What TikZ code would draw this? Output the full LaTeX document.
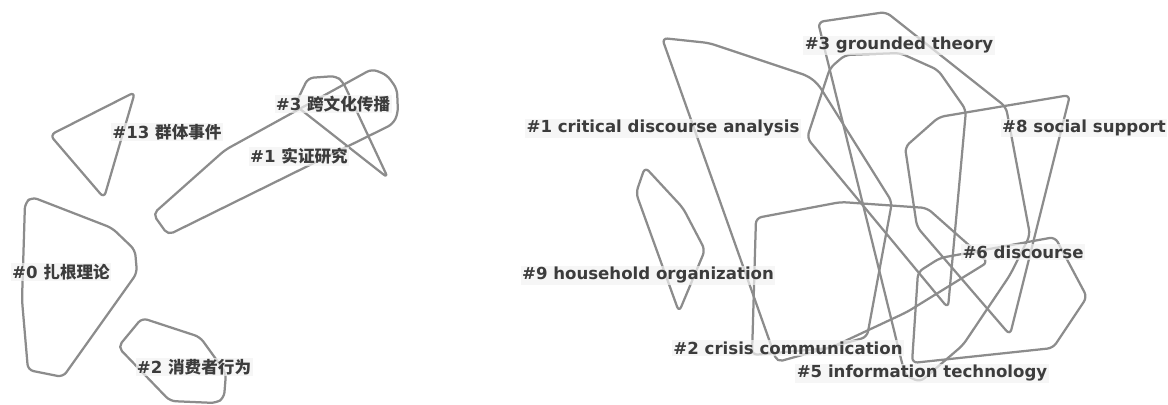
\documentclass[tikz,border=0pt]{standalone}
\usepackage{fontspec}
\setmainfont{DejaVu Sans}
\newfontfamily\cjk{Noto Sans CJK SC}
\definecolor{hullgray}{HTML}{8C8C8C}
\definecolor{labgray}{HTML}{3C3C3C}
\tikzset{
  hull/.style={draw=hullgray, line width=1.6pt, rounded corners=4pt, line join=round},
  clabel/.style={fill=black!5, fill opacity=0.7, text opacity=1, text=labgray,
    inner sep=1pt, font=\bfseries\fontsize{11.8}{14}\selectfont},
}
\newcommand{\zh}[1]{{\cjk\bfseries #1}}

\begin{document}
\begin{tikzpicture}[x=0.025cm, y=-0.025cm]
    \useasboundingbox (0,0) rectangle (1168,404);
    % chinese clusters
    \begin{scope}
        \draw[hull] (32,197) -- (112,228) -- (135,250) -- (137,273) -- (63,377) -- (28,370) -- (22,300) -- (25,203) -- cycle;
        \draw[hull] (50,135) -- (135,92) -- (104,198) -- cycle;
        \draw[hull] (153,214) -- (168,235) -- (393,124) -- (398,113) -- (397,89) -- (387,75) -- (372,69) -- (225,150) -- cycle;
        \draw[hull] (295,105) -- (308,78) -- (336,76) -- (343,82) -- (388,178) -- cycle;
        \draw[hull] (118,347) -- (142,318) -- (200,337) -- (226,373) -- (224,398) -- (216,403) -- (170,401) -- cycle;
        \node[clabel] (c13) at (167,132) {\#13 \zh{群体事件}};
        \node[clabel] (c3) at (333,104) {\#3 \zh{跨文化传播}};
        \node[clabel] (c1) at (299,156) {\#1 \zh{实证研究}};
        \node[clabel] (c0) at (61,272) {\#0 \zh{扎根理论}};
        \node[clabel] (c2) at (194,367) {\#2 \zh{消费者行为}};
    \end{scope}
    % english clusters
    \begin{scope}
        \draw[hull] (662,38) -- (709,43) -- (808,76) -- (818,84) -- (892,202) -- (867,337) -- (777,362) -- cycle;
        \draw[hull] (807,138) -- (830,68) -- (845,55) -- (900,53) -- (938,70) -- (966,110) -- (948,308) -- cycle;
        \draw[hull] (818,22) -- (886,12) -- (1006,107) -- (1030,235) -- (1010,275) -- (963,345) -- (920,382) -- (905,375) -- cycle;
        \draw[hull] (939,117) -- (1070,95) -- (1010,335) -- (917,227) -- (905,147) -- cycle;
        \draw[hull] (645,167) -- (683,208) -- (705,250) -- (679,312) -- (636,193) -- cycle;
        \draw[hull] (918,272) -- (940,258) -- (1055,237) -- (1087,297) -- (1053,348) -- (912,363) -- cycle;
        \draw[hull] (756,218) -- (841,202) -- (927,208) -- (988,262) -- (907,312) -- (830,348) -- (752,355) -- cycle;
        \node[clabel] (e1) at (663,128) {\#1 critical discourse analysis};
        \node[clabel] (e3) at (899,45) {\#3 grounded theory};
        \node[clabel] (e8) at (1084,128) {\#8 social support};
        \node[clabel] (e9) at (648,275) {\#9 household organization};
        \node[clabel] (e6) at (1023,252) {\#6 discourse};
        \node[clabel] (e2) at (788,348) {\#2 crisis communication};
        \node[clabel] (e5) at (922,373) {\#5 information technology};
    \end{scope}
\end{tikzpicture}
\end{document}
